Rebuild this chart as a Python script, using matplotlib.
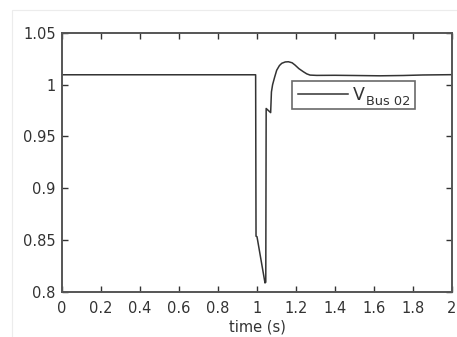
import matplotlib
matplotlib.use("Agg")
import numpy as np
from matplotlib import pyplot as plt
from matplotlib.patches import Rectangle

plt.rcParams['font.family'] = ['DejaVu Sans']

# bus 02 voltage trace (p.u.) read at breakpoints of the simulated response
time_s = [0.0, 0.993, 0.995, 1.0, 1.041, 1.045, 1.047, 1.070, 1.074, 1.080,
          1.090, 1.101, 1.115, 1.127, 1.145, 1.161, 1.180, 1.195, 1.215,
          1.238, 1.255, 1.272, 1.306, 1.40, 1.50, 1.63, 1.75, 1.85, 2.0]
v_bus02 = [1.0096, 1.0096, 0.8535, 0.8530, 0.8083, 0.8090, 0.9770, 0.9730,
           0.9930, 1.0000, 1.0070, 1.0140, 1.0185, 1.0207, 1.0220, 1.0222,
           1.0212, 1.0190, 1.0155, 1.0125, 1.0105, 1.0093, 1.0090, 1.0091,
           1.0089, 1.0086, 1.0089, 1.0094, 1.0097]

x_ticks = [0, 0.2, 0.4, 0.6, 0.8, 1, 1.2, 1.4, 1.6, 1.8, 2]
x_labels = ['0', '0.2', '0.4', '0.6', '0.8', '1', '1.2', '1.4', '1.6', '1.8', '2']
y_ticks = [0.8, 0.85, 0.9, 0.95, 1.0, 1.05]
y_labels = ['0.8', '0.85', '0.9', '0.95', '1', '1.05']

fig = plt.figure(figsize=(4.57, 3.37), dpi=100)
fig.patch.set_facecolor('white')
# faint frame around the figure area
fig.patches.append(Rectangle((12 / 457, -0.05), 1.2, (337 - 10) / 337 + 0.05,
                             transform=fig.transFigure, fill=False,
                             edgecolor='#ececec', linewidth=0.8))

ax = fig.add_axes([62 / 457, (337 - 291.5) / 337, 390 / 457, 258.5 / 337])
ax.plot(time_s, v_bus02, color='#333333', linewidth=1.1, label='V')

ax.set_xlim(0, 2)
ax.set_ylim(0.8, 1.05)
ax.set_xticks(x_ticks)
ax.set_xticklabels(x_labels)
ax.set_yticks(y_ticks)
ax.set_yticklabels(y_labels)
ax.tick_params(direction='in', length=4, width=1.0, top=True, right=True,
               labelsize=10.5, colors='#333333')
ax.tick_params(axis='x', pad=7)
ax.tick_params(axis='y', pad=4.5)
for spine in ax.spines.values():
    spine.set_color('#555555')
    spine.set_linewidth(1.4)
ax.set_xlabel('time (s)', fontsize=10.5, color='#333333', labelpad=2)

# legend box stretched to a fixed width so the large subscript fits inside
leg_x0, leg_w, leg_top = (292.3 - 62) / 390, (415 - 292.3) / 390, (291.5 - 81) / 258.5
leg = ax.legend(loc='upper left', bbox_to_anchor=(leg_x0, leg_top - 0.1, leg_w, 0.1),
                mode='expand', fontsize=12.5, frameon=True, fancybox=False,
                handlelength=2.9, handletextpad=0.3, borderpad=0.3, borderaxespad=0)
leg.get_frame().set_edgecolor('#444444')
leg.get_frame().set_linewidth(1.2)
v_text = leg.get_texts()[0]
v_text.set_color('#333333')
# subscript placed after the legend is laid out (higher zorder draws it later)
ax.annotate('Bus 02', xy=(1, 0), xycoords=v_text, xytext=(0.6, -0.6),
            textcoords='offset points', fontsize=9.3, color='#333333',
            ha='left', va='baseline', zorder=10)

fig.savefig('out.png', dpi=100)
